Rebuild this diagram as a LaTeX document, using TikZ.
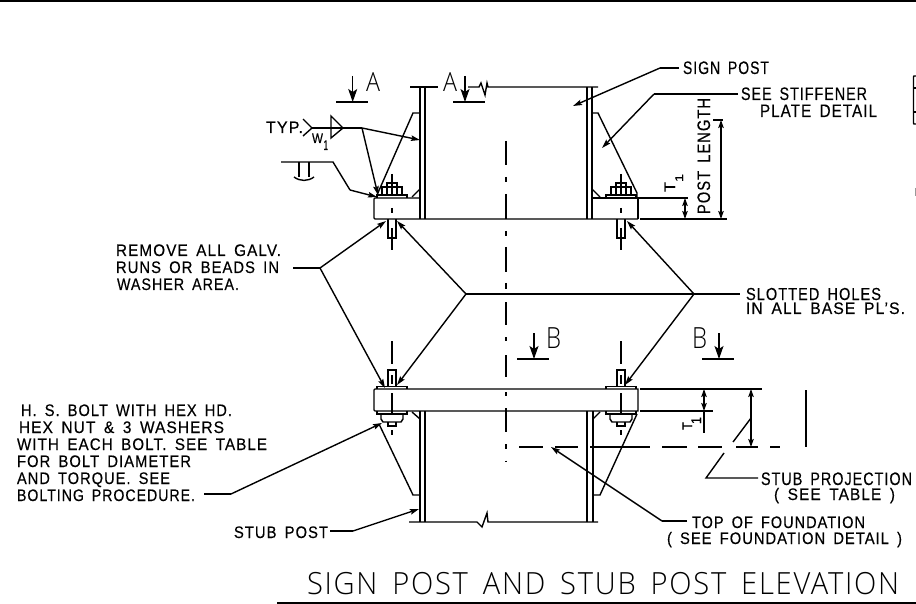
\documentclass[tikz,border=0pt]{standalone}
\usepackage{fontspec}
\usepackage{graphicx}
\setmainfont{Liberation Sans}[LetterSpace=7,WordSpace=1.6,FakeBold=0.35]
\newfontfamily\lightface{Open Sans Light}[LetterSpace=6,WordSpace=1.6]
\usetikzlibrary{arrows.meta}
\newcommand\lbl[6][]{\node[txt,#1] (#2) at (#3,#4) {\resizebox{#5pt}{#6}{\raisebox{0pt}[7.2pt][0pt]{\lbltext}}};}
\newcommand\lt[7][]{\def\lbltext{#7}\lbl[#1]{#2}{#3}{#4}{#5}{#6pt}}
\tikzset{
  x=1pt,y=-1pt,
  ln/.style={line width=1.4pt,line cap=butt,line join=miter},
  txt/.style={inner sep=0pt,outer sep=0pt,anchor=south west,text=black},
  ld/.style={-{Stealth[length=9pt,width=5.5pt,inset=1.5pt]}},
  sec/.style={-{Stealth[length=13pt,width=9pt,inset=3pt]},line width=1.2pt},
  dimm/.style={{Stealth[length=8pt,width=5.5pt,inset=1.5pt]}-{Stealth[length=8pt,width=5.5pt,inset=1.5pt]}},
  upbolt/.pic={
    \draw[ln] (-15,198)--(-15,195)--(15,195)--(15,198);
    \draw[ln] (-10,195)--(-10,187)--(10,187)--(10,195);
    \draw[ln] (-5,195)--(-5,183)--(5,183)--(5,195);
    \draw[ln] (0,174)--(0,195);
    \draw[ln] (0,208)--(0,213);
    \draw[ln] (-4,219)--(-4,238)--(4,238)--(4,219);
    \draw[ln] (0,228)--(0,250);
  },
  lowbolt/.pic={
    \draw[ln] (-15,389)--(-15,386.5)--(15,386.5)--(15,389);
    \draw[ln] (-4,386.5)--(-4,370)--(4,370)--(4,386.5);
    \draw[ln] (0,341)--(0,364);
    \draw[ln] (0,375)--(0,384);
    \draw[ln] (0,393)--(0,415);
    \draw[ln] (-15,411)--(-15,414)--(15,414)--(15,411);
    \draw[ln] (-11,414)--(-11,419)--(-9,422)--(9,422)--(11,419)--(11,414);
    \draw[ln] (-4,422)--(-4,426)--(4,426)--(4,422);
    \draw[ln] (0,430)--(0,435);
  }
}
\begin{document}
\begin{tikzpicture}
\useasboundingbox (0,0) rectangle (916,604);
% frame rules
\draw[line width=1.6pt] (0,1)--(916,1);
\draw[ln] (277,603)--(916,603);
% cut-off table at right edge
\draw[ln] (916,76)--(914,76)--(913.5,77)--(913.5,123)--(914,124)--(916,124);
\draw[ln] (914,88)--(916,88) (914,112)--(916,112);
\draw[line width=0.8pt,black!40] (915,188)--(915,196);
% upper post
\draw[ln] (410,87)--(438,87);
\draw[ln] (420,87)--(420,219) (425,87)--(425,219);
\draw[ln] (587,87)--(587,219) (592,87)--(592,219);
\draw[ln] (468,87)--(479,87)--(481,83)--(485,95)--(487,83)--(488,87)--(598,87);
% upper base plate
\draw[ln] (420,198)--(375,198)--(374,199)--(374,218)--(375,219)--(638,219);
\draw[ln] (640,219)--(727,219);
\draw[ln] (592,198)--(688,198);
\draw[ln] (638,198)--(638,219);
% upper stiffeners
\draw[ln] (420,113)--(413,113)--(377,195);
\draw[ln] (412,197)--(420,189);
\draw[ln] (592,113)--(598,113)--(637,193)--(637,197);
\draw[ln] (592,189)--(600,197);
\pic at (392,0) {upbolt};
\pic at (621,0) {upbolt};
% lower base plate
\draw[ln] (375,389)--(638,389)--(638,411)--(375,411)--(374,410)--(374,390)--cycle;
\draw[ln] (640,389)--(762,389);
\draw[ln] (640,411)--(713,411);
% lower post
\draw[ln] (420,411)--(420,522) (425,411)--(425,522);
\draw[ln] (587,411)--(587,522) (593,411)--(593,522);
\draw[ln] (409,522)--(477,522)--(482,527)--(487,513)--(488,522)--(598,522);
% lower stiffeners
\draw[ln] (379,424)--(413,495)--(420,495);
\draw[ln] (412,412)--(420,419);
\draw[ln] (637,414)--(600,495)--(593,495);
\draw[ln] (593,419)--(600,412);
\pic at (392,0) {lowbolt};
\pic at (621,0) {lowbolt};
% centre line
\foreach \a/\b in {141/165,177/182,194/219,231/236,247/272,283/289,302/325,337/341,355/377,392/396,408/432,444/449,460.5/462}
  \draw[ln] (506,\a)--(506,\b);
% foundation line
\foreach \a/\b in {519/543,555/578,590/650,662/687,698/722,736/758,770/780}
  \draw[ln] (\a,447)--(\b,447);
\draw[ln] (806,390)--(806,447);
% section marks
\draw[sec] (352.7,76)--(352.7,102);
\draw[ln] (336,102)--(368,102);
\draw[sec] (465,76)--(465,102);
\draw[ln] (453,102)--(485,102);
\draw[sec] (534,333)--(534,359);
\draw[ln] (517,359)--(549,359);
\draw[sec] (719,333)--(719,359);
\draw[ln] (702,359)--(734,359);
% weld symbols
\draw[ln] (303,119)--(312,128)--(303,136);
\draw[ln] (312,128)--(362,128);
\draw[ln] (331,116)--(343,128)--(331,138)--cycle;
\draw[ln,ld] (362,128)--(420,140);
\draw[ln,ld] (362,128)--(378,195);
\draw[ln] (281,162)--(333,162)--(350,190);
\draw[ln,ld] (350,190)--(377,197);
\draw[ln] (299,162)--(299,177) (309,162)--(309,177);
\draw[ln] (294,177) .. controls (300,181.5) and (308,181.5) .. (314,177);
% leaders: galv / slotted holes
\coordinate (jl) at (320,268);
\coordinate (j1) at (466,294);
\coordinate (j2) at (694,294);
\draw[ln] (293,268)--(jl);
\draw[ln,ld] (jl)--(386,221);
\draw[ln,ld] (jl)--(385,388);
\draw[ln,ld] (j1)--(397,221);
\draw[ln,ld] (j1)--(397,385);
\draw[ln,ld] (j2)--(627,221);
\draw[ln,ld] (j2)--(625,385);
\draw[ln] (j1)--(740,294);
% other leaders
\draw[ln] (679,68)--(660,68);
\draw[ln,ld] (660,68)--(573,106);
\draw[ln] (738,94)--(654,94);
\draw[ln,ld] (654,94)--(602,148);
\draw[ln] (204,494)--(231,494);
\draw[ln,ld] (231,494)--(382,423);
\draw[ln] (330,531)--(353,531);
\draw[ln,ld] (353,531)--(419,509);
\draw[ln] (687,521)--(662,521);
\draw[ln,ld] (662,521)--(551,447);
\draw[ln] (733,442)--(751,418);
\draw[ln] (724,453)--(706,478)--(758,478);
% dimensions
\draw[ln,dimm] (721,120)--(721,219);
\draw[ln] (713,120)--(723,120);
\draw[ln,dimm] (685,198)--(685,219);
\draw[ln,dimm] (704,389)--(704,411);
\draw[ln] (704,411)--(704,433);
\draw[ln,dimm] (751,389)--(751,447);
% texts
\lt{typ}{266}{133}{37}{12}{TYP.}
\lt{w}{312}{143}{11}{10}{W}
\lt{wsub}{323.5}{150}{4.5}{10}{1}
\lt{aleft}{366}{92}{14}{19}{\lightface A}
\lt{aright}{443}{92}{14}{19}{\lightface A}
\lt{bleft}{546}{348}{15}{21}{\lightface B}
\lt{bright}{692}{348}{15}{21}{\lightface B}
\lt{signpost}{683}{74}{86}{13}{SIGN POST}
\lt{stiff}{741}{100}{126}{13}{SEE STIFFENER}
\lt{plate}{760}{117}{117}{13}{PLATE DETAIL}
\lt[rotate=90]{postlen}{710}{214}{116}{13}{POST LENGTH}
\lt[rotate=90]{tup}{675}{192}{10}{11}{T}
\lt[rotate=90]{tupsub}{683}{182}{8}{8}{1}
\lt[rotate=90]{tlow}{692}{430}{8}{10}{T}
\lt[rotate=90]{tlowsub}{701}{424}{7}{10}{1}
\lt{remove}{116}{256}{165}{12}{REMOVE ALL GALV.}
\lt{runs}{116}{273}{163}{12}{RUNS OR BEADS IN}
\lt{washer}{117}{290}{122}{12}{WASHER AREA.}
\lt{slot}{746}{300}{135}{12.5}{SLOTTED HOLES}
\lt{inall}{746}{314}{159}{12}{IN ALL BASE PL'S.}
\lt{hs}{21}{416}{211}{12}{H. S. BOLT WITH HEX HD.}
\lt{hex}{19}{433}{205}{12}{HEX NUT \& 3 WASHERS}
\lt{witheach}{17}{450}{250}{12}{WITH EACH BOLT. SEE TABLE}
\lt{forb}{17}{467}{174}{12}{FOR BOLT DIAMETER}
\lt{andt}{17}{484}{153}{12}{AND TORQUE. SEE}
\lt{bolting}{17}{501}{178}{12}{BOLTING PROCEDURE.}
\lt{stubpost}{234}{538}{94}{12}{STUB POST}
\lt{stubproj}{761}{485}{151}{13}{STUB PROJECTION}
\lt{seetable}{774}{500}{121}{12}{( SEE TABLE )}
\lt{topf}{692}{528}{173}{12}{TOP OF FOUNDATION}
\lt{seef}{667}{544}{235}{12}{( SEE FOUNDATION DETAIL )}
\lt{title}{307}{594}{592}{22}{\lightface SIGN POST AND STUB POST ELEVATION}
\end{tikzpicture}
\end{document}
